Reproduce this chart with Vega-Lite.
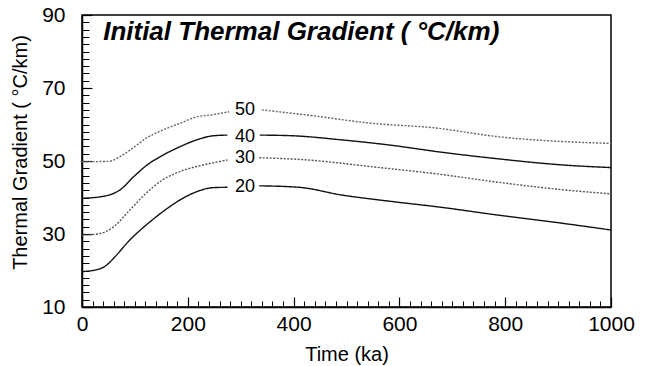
{
  "$schema": "https://vega.github.io/schema/vega-lite/v6.json",
  "width": 529,
  "height": 292,
  "autosize": {"type": "none"},
  "padding": {"left": 82, "top": 15, "right": 43, "bottom": 59},
  "background": "white",
  "config": {
    "font": "Liberation Sans",
    "view": {"stroke": "black", "strokeWidth": 1.5},
    "axis": {"grid": false, "domainColor": "black", "domainWidth": 1.5, "tickColor": "black", "labelColor": "black", "titleColor": "black", "labelFont": "Liberation Sans", "titleFont": "Liberation Sans", "labelFontSize": 21, "titleFontSize": 20, "titleFontWeight": "normal"}
  },
  "layer": [
    {
      "data": {
        "values": [
          {"t": 0, "v": 19.7, "g": "20", "p": 1},
          {"t": 30, "v": 20.3, "g": "20", "p": 1},
          {"t": 45, "v": 21.3, "g": "20", "p": 1},
          {"t": 60, "v": 23.4, "g": "20", "p": 1},
          {"t": 90, "v": 28.3, "g": "20", "p": 1},
          {"t": 120, "v": 32.3, "g": "20", "p": 1},
          {"t": 150, "v": 35.8, "g": "20", "p": 1},
          {"t": 185, "v": 39.3, "g": "20", "p": 1},
          {"t": 217, "v": 41.6, "g": "20", "p": 1},
          {"t": 248, "v": 42.7, "g": "20", "p": 1},
          {"t": 275, "v": 42.8, "g": "20", "p": 1},
          {"t": 335, "v": 43.2, "g": "20", "p": 2},
          {"t": 410, "v": 42.8, "g": "20", "p": 2},
          {"t": 490, "v": 40.7, "g": "20", "p": 2},
          {"t": 580, "v": 39.0, "g": "20", "p": 2},
          {"t": 680, "v": 37.3, "g": "20", "p": 2},
          {"t": 780, "v": 35.3, "g": "20", "p": 2},
          {"t": 910, "v": 32.9, "g": "20", "p": 2},
          {"t": 1000, "v": 31.1, "g": "20", "p": 2},
          {"t": 0, "v": 29.7, "g": "30", "p": 1},
          {"t": 30, "v": 30.0, "g": "30", "p": 1},
          {"t": 60, "v": 32.0, "g": "30", "p": 1},
          {"t": 90, "v": 36.5, "g": "30", "p": 1},
          {"t": 120, "v": 41.0, "g": "30", "p": 1},
          {"t": 150, "v": 44.6, "g": "30", "p": 1},
          {"t": 185, "v": 47.1, "g": "30", "p": 1},
          {"t": 217, "v": 48.5, "g": "30", "p": 1},
          {"t": 248, "v": 49.5, "g": "30", "p": 1},
          {"t": 275, "v": 50.3, "g": "30", "p": 1},
          {"t": 335, "v": 50.9, "g": "30", "p": 2},
          {"t": 425, "v": 50.3, "g": "30", "p": 2},
          {"t": 550, "v": 48.4, "g": "30", "p": 2},
          {"t": 680, "v": 46.3, "g": "30", "p": 2},
          {"t": 780, "v": 44.3, "g": "30", "p": 2},
          {"t": 910, "v": 42.1, "g": "30", "p": 2},
          {"t": 1000, "v": 41.0, "g": "30", "p": 2},
          {"t": 0, "v": 39.8, "g": "40", "p": 1},
          {"t": 35, "v": 40.2, "g": "40", "p": 1},
          {"t": 72, "v": 42.1, "g": "40", "p": 1},
          {"t": 97, "v": 45.6, "g": "40", "p": 1},
          {"t": 122, "v": 48.8, "g": "40", "p": 1},
          {"t": 153, "v": 51.6, "g": "40", "p": 1},
          {"t": 185, "v": 53.9, "g": "40", "p": 1},
          {"t": 217, "v": 55.8, "g": "40", "p": 1},
          {"t": 248, "v": 56.9, "g": "40", "p": 1},
          {"t": 275, "v": 57.1, "g": "40", "p": 1},
          {"t": 336, "v": 57.1, "g": "40", "p": 2},
          {"t": 400, "v": 56.9, "g": "40", "p": 2},
          {"t": 490, "v": 55.8, "g": "40", "p": 2},
          {"t": 580, "v": 54.4, "g": "40", "p": 2},
          {"t": 680, "v": 52.4, "g": "40", "p": 2},
          {"t": 780, "v": 50.7, "g": "40", "p": 2},
          {"t": 910, "v": 48.9, "g": "40", "p": 2},
          {"t": 1000, "v": 48.2, "g": "40", "p": 2},
          {"t": 0, "v": 49.8, "g": "50", "p": 1},
          {"t": 50, "v": 49.9, "g": "50", "p": 1},
          {"t": 72, "v": 51.2, "g": "50", "p": 1},
          {"t": 91, "v": 53.0, "g": "50", "p": 1},
          {"t": 122, "v": 56.3, "g": "50", "p": 1},
          {"t": 153, "v": 58.5, "g": "50", "p": 1},
          {"t": 185, "v": 60.3, "g": "50", "p": 1},
          {"t": 217, "v": 62.1, "g": "50", "p": 1},
          {"t": 248, "v": 62.7, "g": "50", "p": 1},
          {"t": 278, "v": 63.5, "g": "50", "p": 1},
          {"t": 340, "v": 64.0, "g": "50", "p": 2},
          {"t": 425, "v": 62.6, "g": "50", "p": 2},
          {"t": 550, "v": 60.3, "g": "50", "p": 2},
          {"t": 665, "v": 59.1, "g": "50", "p": 2},
          {"t": 784, "v": 56.7, "g": "50", "p": 2},
          {"t": 1000, "v": 54.8, "g": "50", "p": 2}
        ]
      },
      "mark": {"type": "line", "interpolate": "monotone", "strokeWidth": 1.4},
      "encoding": {
        "x": {"field": "t", "type": "quantitative", "scale": {"domain": [0, 1000], "nice": false},
              "axis": {"orient": "bottom", "values": [0, 200, 400, 600, 800, 1000], "format": "d", "tickSize": -10, "tickWidth": 1.2, "labelPadding": 16, "title": "Time (ka)", "titlePadding": 10, "labelFlush": false}},
        "y": {"field": "v", "type": "quantitative", "scale": {"domain": [10, 90], "nice": false, "zero": false},
              "axis": {"orient": "left", "values": [10, 30, 50, 70, 90], "tickSize": -10, "tickWidth": 1.2, "labelPadding": 27, "title": "Thermal Gradient ( °C/km)", "titleX": -62, "titleY": 137, "titleAlign": "center", "titleBaseline": "middle", "titleAngle": -90}},
        "detail": {"field": "p"},
        "strokeDash": {"field": "g", "type": "nominal", "scale": {"domain": ["20", "30", "40", "50"], "range": [[1, 0], [2, 1.5], [1, 0], [2, 1.5]]}, "legend": null},
        "color": {"field": "g", "type": "nominal", "scale": {"domain": ["20", "30", "40", "50"], "range": ["#111111", "#555555", "#111111", "#666666"]}, "legend": null}
      }
    },
    {
      "data": {
        "values": [
          {"t": 308, "v": 64.0, "lab": "50"},
          {"t": 308, "v": 56.6, "lab": "40"},
          {"t": 308, "v": 50.8, "lab": "30"},
          {"t": 308, "v": 42.9, "lab": "20"}
        ]
      },
      "mark": {"type": "text", "font": "Liberation Sans", "fontSize": 18, "color": "black", "baseline": "middle", "align": "center"},
      "encoding": {
        "x": {"field": "t", "type": "quantitative",
              "axis": {"orient": "bottom", "values": [20,40,60,80,100,120,140,160,180,220,240,260,280,300,320,340,360,380,420,440,460,480,500,520,540,560,580,620,640,660,680,700,720,740,760,780,820,840,860,880,900,920,940,960,980], "tickSize": -6, "tickWidth": 1, "labels": false, "domain": false, "title": null}},
        "y": {"field": "v", "type": "quantitative",
              "axis": {"orient": "left", "values": [12,14,16,18,20,22,24,26,28,32,34,36,38,40,42,44,46,48,52,54,56,58,60,62,64,66,68,72,74,76,78,80,82,84,86,88], "tickSize": -7, "tickWidth": 1, "labels": false, "domain": false, "title": null}},
        "text": {"field": "lab"}
      }
    },
    {
      "data": {"values": [{"t": 40, "v": 83.2, "lab": "Initial Thermal Gradient ( °C/km)"}]},
      "mark": {"type": "text", "font": "Liberation Sans", "fontSize": 26, "fontWeight": "bold", "fontStyle": "italic", "color": "black", "baseline": "alphabetic", "align": "left"},
      "encoding": {
        "x": {"field": "t", "type": "quantitative", "axis": null},
        "y": {"field": "v", "type": "quantitative", "axis": null},
        "text": {"field": "lab"}
      }
    }
  ],
  "resolve": {"axis": {"x": "independent", "y": "independent"}}
}
